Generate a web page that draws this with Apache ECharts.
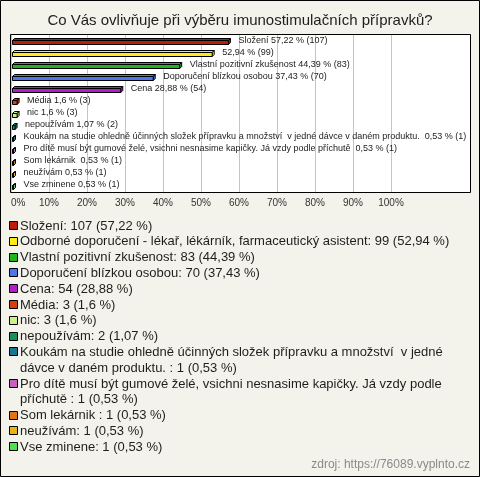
<!DOCTYPE html>
<html><head><meta charset="utf-8">
<script src="https://cdn.jsdelivr.net/npm/echarts@6/dist/echarts.min.js"></script>
<style>html,body{margin:0;padding:0;background:#f3f3eb;}#c{width:480px;height:477px;}</style>
</head><body><div id="c"></div>
<script>
const chartTitle = 'Co Vás ovlivňuje při výběru imunostimulačních přípravků?';
const categories = [
  'Složení',
  'Odborné doporučení - lékař, lékárník, farmaceutický asistent',
  'Vlastní pozitivní zkušenost',
  'Doporučení blízkou osobou',
  'Cena',
  'Média',
  'nic',
  'nepoužívám',
  'Koukám na studie ohledně účinných složek přípravku a množství  v jedné dávce v daném produktu. ',
  'Pro dítě musí být gumové želé, vsichni nesnasime kapičky. Já vzdy podle příchutě ',
  'Som lekárnik ',
  'neužívám',
  'Vse zminene'
];
const counts = [107, 99, 83, 70, 54, 3, 3, 2, 1, 1, 1, 1, 1];
const percents = [57.22, 52.94, 44.39, 37.43, 28.88, 1.6, 1.6, 1.07, 0.53, 0.53, 0.53, 0.53, 0.53];
const nameInBarLabel = [true, false, true, true, true, true, true, true, true, true, true, true, true];
const colors = ['#bb1c0c', '#ffea1a', '#22b322', '#4d76ea', '#b41ccb', '#da3e10', '#ccef8c', '#17915a', '#1c7490', '#c462c4', '#e0741a', '#e6b414', '#4fe04f'];
const xTickValues = [0, 10, 20, 30, 40, 50, 60, 70, 80, 90, 100];
const sourceText = 'zdroj: https://76089.vyplnto.cz';

const FONT = '"Liberation Sans", Arial, sans-serif';
const fmtPct = v => String(v).replace('.', ',');

const chart = echarts.init(document.getElementById('c'), null, {renderer: 'canvas'});

// legend list (text wrapping measured on a canvas)
const mctx = document.createElement('canvas').getContext('2d');
mctx.font = '13px ' + FONT;
function wrap(text, maxW) {
  const words = text.split(' ');
  const lines = [];
  let cur = '';
  for (let i = 0; i < words.length; i++) {
    const test = cur === '' ? words[i] : cur + ' ' + words[i];
    if (mctx.measureText(test).width > maxW && cur !== '') {
      lines.push(cur);
      cur = words[i];
    } else cur = test;
  }
  lines.push(cur);
  return lines;
}
const legendGraphics = [];
let lineIdx = 0;
const LY0 = 226, LH = 15.8;
categories.forEach((name, i) => {
  const txt = name + ': ' + counts[i] + ' (' + fmtPct(percents[i]) + ' %)';
  const lines = wrap(txt, 448);
  const y = LY0 + lineIdx * LH;
  legendGraphics.push({
    type: 'rect', shape: {x: 9.5, y: Math.round(y) - 4.5, width: 8, height: 8},
    style: {fill: colors[i], stroke: '#000', lineWidth: 1}, z: 50
  });
  legendGraphics.push({
    type: 'text', x: 20, y: y - LH / 2,
    style: {text: lines.join('\n'), font: '13px ' + FONT, fill: '#1e1e1e', lineHeight: LH, verticalAlign: 'top', align: 'left'},
    z: 50
  });
  lineIdx += lines.length;
});

const option = {
  backgroundColor: '#f3f3eb',
  animation: false,
  title: {
    text: chartTitle, left: 'center', top: 13, padding: 0,
    textStyle: {fontSize: 15, fontWeight: 'normal', color: '#1e1e1e', fontFamily: FONT}
  },
  grid: {left: 11, top: 35, width: 380, height: 157, containLabel: false, show: false},
  xAxis: {
    type: 'value', min: 0, max: 100, interval: 10,
    axisLine: {show: false}, axisTick: {show: false},
    splitLine: {show: true, lineStyle: {color: '#c4c4c4', width: 1}},
    axisLabel: {
      formatter: v => (xTickValues.indexOf(v) >= 0 ? v + '%' : ''),
      fontSize: 10, color: '#333', fontFamily: FONT, margin: 6,
      alignMinLabel: 'left'
    }
  },
  yAxis: {
    type: 'category', data: categories, inverse: true,
    axisLine: {show: false}, axisTick: {show: false}, axisLabel: {show: false}, splitLine: {show: false}
  },
  graphic: [
    {type: 'rect', shape: {x: 10.5, y: 34.5, width: 460, height: 158}, style: {fill: '#ffffff'}, z: -10, silent: true},
    {type: 'rect', shape: {x: 10.5, y: 34.5, width: 460, height: 158}, style: {fill: 'none', stroke: '#000', lineWidth: 1}, z: 100, silent: true},
    {type: 'rect', shape: {x: 0.5, y: 0.5, width: 479, height: 476}, style: {fill: 'none', stroke: '#000', lineWidth: 1}, z: 100, silent: true},
    {type: 'text', x: 470, y: 465, style: {text: sourceText, font: '12px ' + FONT, fill: '#8a8a8a', align: 'right', verticalAlign: 'middle'}, z: 50}
  ].concat(legendGraphics),
  series: [{
    type: 'custom',
    clip: false,
    encode: {x: 0, y: 1},
    data: percents.map((p, i) => [p, i]),
    renderItem: function (params, api) {
      const v = api.value(0), idx = api.value(1);
      const p0 = api.coord([0, idx]);
      const p1 = api.coord([v, idx]);
      const yc = p0[1];
      const d = 2, h = 4;
      const x0 = Math.round(p0[0]) + 1.5;
      const x1 = Math.max(x0 + 1, p1[0]);
      const top = Math.round(yc) + 0.5 - 1, bot = top + h;
      const col = colors[idx];
      const st = {fill: col, stroke: '#000', lineWidth: 1};
      const label = (nameInBarLabel[idx] ? categories[idx] + ' ' : '') + fmtPct(percents[idx]) + ' % (' + counts[idx] + ')';
      return {
        type: 'group',
        children: [
          {type: 'polygon', shape: {points: [[x0, top], [x0 + d, top - d], [x1 + d, top - d], [x1, top]]}, style: st},
          {type: 'polygon', shape: {points: [[x1, top], [x1 + d, top - d], [x1 + d, bot - d], [x1, bot]]}, style: st},
          {type: 'rect', shape: {x: x0, y: top, width: x1 - x0, height: h}, style: st},
          {type: 'text', x: x1 + 10, y: yc - 1, style: {text: label, font: '9px ' + FONT, fill: '#222', verticalAlign: 'middle', align: 'left'}}
        ]
      };
    }
  }]
};
chart.setOption(option);
</script>
</body></html>
